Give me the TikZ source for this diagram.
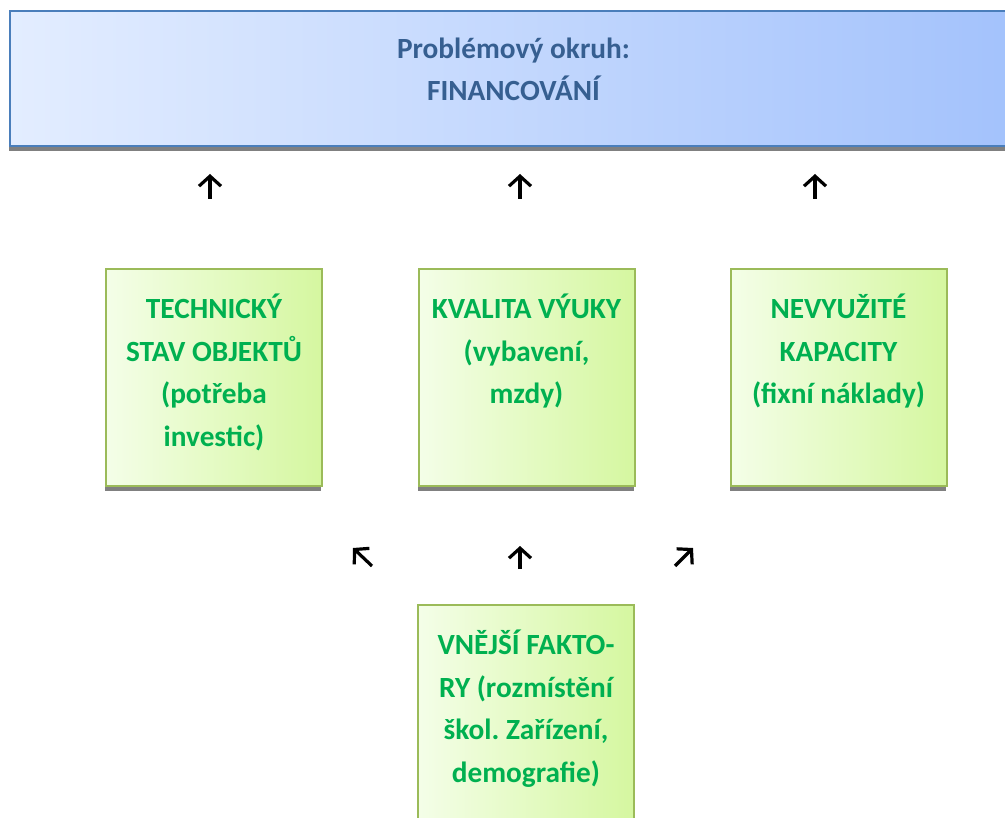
\documentclass[tikz,border=0pt]{standalone}
\usepackage{fontspec}
\setmainfont{Carlito}
\frenchspacing
\usetikzlibrary{positioning,arrows.meta}

\definecolor{finedge}{HTML}{4A7EBB}
\definecolor{finleft}{HTML}{E3EDFF}
\definecolor{finright}{HTML}{A3C2FC}
\definecolor{fintext}{HTML}{365F91}
\definecolor{gedge}{HTML}{9BBB59}
\definecolor{gleft}{HTML}{F4FEE8}
\definecolor{gright}{HTML}{D5F7A0}
\definecolor{gtextc}{HTML}{00B050}

\begin{document}
\begin{tikzpicture}[
            x=1pt, y=-1pt,
            topbox/.style={
                rectangle,
                draw=finedge,
                line width=2pt,
                left color=finleft,
                right color=finright,
                minimum width=1007pt,
                minimum height=135pt,
                inner sep=0pt
            },
            gbox/.style={
                rectangle,
                draw=gedge,
                line width=2pt,
                left color=gleft,
                right color=gright,
                minimum width=216pt,
                minimum height=217pt,
                inner sep=0pt
            },
            toptext/.style={
                text=fintext,
                font=\fontsize{29.3}{42}\selectfont\bfseries,
                align=center,
                inner sep=0pt
            },
            gtext/.style={
                text=gtextc,
                font=\fontsize{29.3}{42.5}\selectfont\bfseries,
                align=center,
                inner sep=0pt
            },
            boxshadow/.style={fill=black!50},
            arr/.style={line width=3.2pt, -{Straight Barb[length=10pt,width=22pt]}}
        ]
        \useasboundingbox (0,0) rectangle (1005,818);
        \clip (0,0) rectangle (1005,818);

        % nodes
        \node[topbox] (fin) at (513.5,78.5) {};
        \node[toptext, below=28pt of fin.north] (fintxt) {Problémový okruh:\\FINANCOVÁNÍ};

        \node[gbox] (tech) at (214,377.5) {};
        \node[gbox] (kval) at (526.5,377.5) {};
        \node[gbox] (nevy) at (838.5,377.5) {};
        \node[gbox] (vnej) at (526,713.5) {};

        \node[gtext, below=26pt of tech.north] (techtxt) {TECHNICKÝ\\STAV OBJEKTŮ\\(potřeba\\investic)};
        \node[gtext, below=26pt of kval.north] (kvaltxt) {KVALITA VÝUKY\\(vybavení,\\mzdy)};
        \node[gtext, below=26pt of nevy.north] (nevytxt) {NEVYUŽITÉ\\KAPACITY\\(fixní náklady)};
        \node[gtext, below=26pt of vnej.north] (vnejtxt) {VNĚJŠÍ FAKTO-\\RY (rozmístění\\škol. Zařízení,\\demografie)};

        % shadows
        \fill[boxshadow] (fin.south west) rectangle ++(1007,4);
        \fill[boxshadow] (tech.south west) rectangle ++(216,4);
        \fill[boxshadow] (kval.south west) rectangle ++(216,4);
        \fill[boxshadow] (nevy.south west) rectangle ++(216,4);

        % arrow ends
        \coordinate (up1s) at (210,199);
        \coordinate (up1e) at (210,174);
        \coordinate (up2s) at (520,199);
        \coordinate (up2e) at (520,174);
        \coordinate (up3s) at (815,199);
        \coordinate (up3e) at (815,174);
        \coordinate (lo1s) at (372,566);
        \coordinate (lo1e) at (353,548);
        \coordinate (lo2s) at (520,569);
        \coordinate (lo2e) at (520,546);
        \coordinate (lo3s) at (675,566);
        \coordinate (lo3e) at (693,548);

        % lines
        \draw[arr] (up1s) -- (up1e);
        \draw[arr] (up2s) -- (up2e);
        \draw[arr] (up3s) -- (up3e);
        \draw[arr] (lo1s) -- (lo1e);
        \draw[arr] (lo2s) -- (lo2e);
        \draw[arr] (lo3s) -- (lo3e);
    \end{tikzpicture}
\end{document}
